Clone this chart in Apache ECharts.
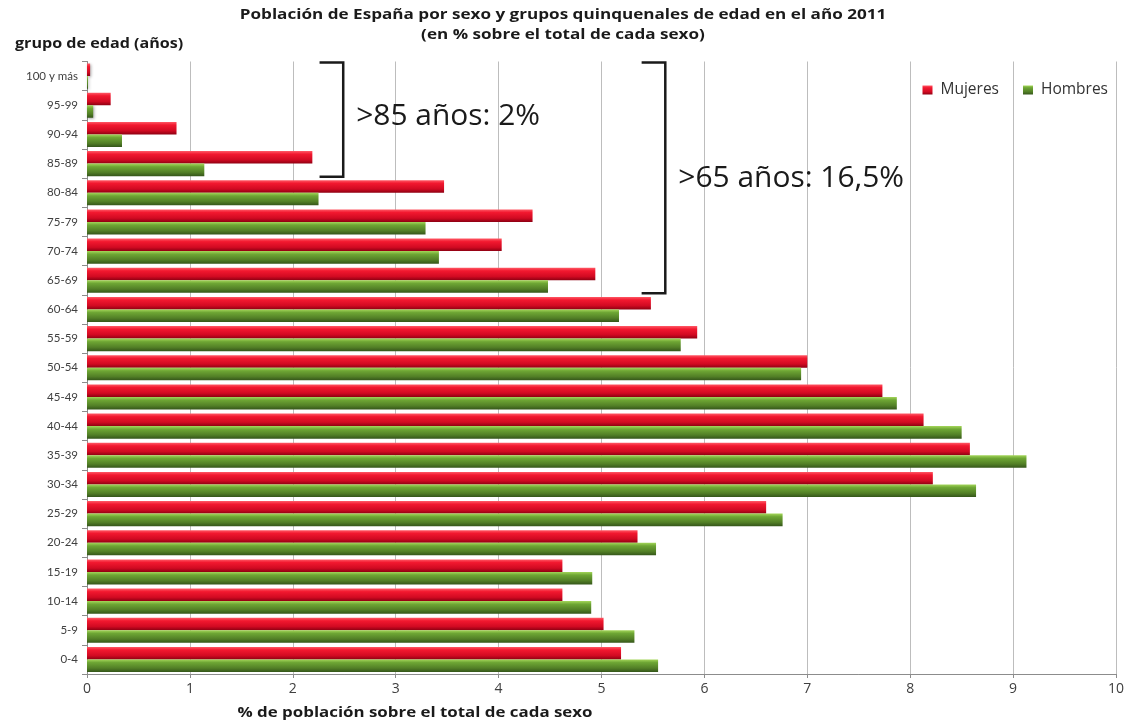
<!DOCTYPE html>
<html>
<head>
<meta charset="utf-8">
<script src="https://cdn.jsdelivr.net/npm/echarts@6/dist/echarts.min.js"></script>
<style>
  html, body { margin: 0; padding: 0; background: #fff; }
  #main { width: 1127px; height: 728px; }
</style>
</head>
<body>
<div id="main"></div>
<script>
// grupos de edad, de abajo (0-4) hacia arriba (100 y más)
const grupos = ['0-4', '5-9', '10-14', '15-19', '20-24', '25-29', '30-34', '35-39', '40-44', '45-49',
  '50-54', '55-59', '60-64', '65-69', '70-74', '75-79', '80-84', '85-89', '90-94', '95-99', '100 y más'];
const mujeres = [5.19, 5.02, 4.62, 4.62, 5.35, 6.60, 8.22, 8.58, 8.13, 7.73,
  7.00, 5.93, 5.48, 4.94, 4.03, 4.33, 3.47, 2.19, 0.87, 0.23, 0.03];
const hombres = [5.55, 5.32, 4.90, 4.91, 5.53, 6.76, 8.64, 9.13, 8.50, 7.87,
  6.94, 5.77, 5.17, 4.48, 3.42, 3.29, 2.25, 1.14, 0.34, 0.06, 0.01];
const ticksX = [0, 1, 2, 3, 4, 5, 6, 7, 8, 9, 10];
// llaves: [x de la barra vertical, x del extremo, grupo superior, grupo inferior, texto]
const llaves = [
  [2.49, 2.26, '100 y más', '85-89', '>85 años: 2%'],
  [5.62, 5.39, '100 y más', '65-69', '>65 años: 16,5%']
];

const fuente = '"Open Sans", Lato, sans-serif';

const rojo = new echarts.graphic.LinearGradient(0, 0, 0, 1, [
  { offset: 0, color: '#ff5a66' },
  { offset: 0.25, color: '#f2182f' },
  { offset: 0.7, color: '#d10a22' },
  { offset: 1, color: '#8e0012' }
]);
const verde = new echarts.graphic.LinearGradient(0, 0, 0, 1, [
  { offset: 0, color: '#a4d65a' },
  { offset: 0.25, color: '#6ea634' },
  { offset: 0.7, color: '#527f26' },
  { offset: 1, color: '#35561a' }
]);

// textos sueltos (algo estirados en horizontal, como en el original)
const texto = (t, x, y, size, sx, align) => ({
  type: 'text', x: x, y: y, scaleX: sx, z: 100,
  style: { text: t, fontSize: size, fontWeight: 'bold', fontFamily: fuente, fill: '#1a1a1a',
    align: align, verticalAlign: 'middle' }
});

const chart = echarts.init(document.getElementById('main'), null, { renderer: 'canvas' });

const option = {
  animation: false,
  textStyle: { fontFamily: fuente },
  legend: {
    data: ['Mujeres', 'Hombres'],
    right: 14, top: 77,
    itemWidth: 10, itemHeight: 9, itemGap: 24,
    icon: 'rect',
    textStyle: { fontSize: 15.5, color: '#333', fontFamily: fuente, padding: [0, 0, 0, 3] }
  },
  grid: { left: 87, right: 11, top: 61.5, bottom: 54 },
  xAxis: {
    type: 'value', min: 0, max: 10, interval: 1,
    axisLine: { show: true, lineStyle: { color: '#8c8c8c' } },
    axisTick: { show: true, length: 4, lineStyle: { color: '#8c8c8c' } },
    axisLabel: { fontSize: 14, color: '#404040', margin: 8, formatter: v => ticksX.includes(v) ? String(v) : '' },
    splitLine: { show: true, lineStyle: { color: '#bdbdbd', width: 1 } }
  },
  yAxis: {
    type: 'category', data: grupos,
    axisLine: { show: true, lineStyle: { color: '#8c8c8c' } },
    axisTick: { show: true, length: 5, lineStyle: { color: '#8c8c8c' } },
    axisLabel: { fontSize: 11.5, color: '#404040', margin: 9, fontFamily: 'Lato, sans-serif' }
  },
  series: [
    {
      name: 'Mujeres', type: 'bar', data: mujeres,
      barGap: '0%', barCategoryGap: '14%',
      itemStyle: { color: rojo, shadowColor: 'rgba(0,0,0,0.35)', shadowBlur: 3, shadowOffsetX: 1, shadowOffsetY: 1 }
    },
    {
      name: 'Hombres', type: 'bar', data: hombres,
      barGap: '0%', barCategoryGap: '14%',
      itemStyle: { color: verde, shadowColor: 'rgba(0,0,0,0.35)', shadowBlur: 3, shadowOffsetX: 1, shadowOffsetY: 1 }
    }
  ]
};
chart.setOption(option);

const elementos = [
  texto('Población de España por sexo y grupos quinquenales de edad en el año 2011', 563, 15, 15, 1.14, 'center'),
  texto('(en % sobre el total de cada sexo)', 563, 35, 15, 1.14, 'center'),
  texto('grupo de edad (años)', 15, 44, 14, 1.15, 'left'),
  texto('% de población sobre el total de cada sexo', 415, 713, 13.5, 1.25, 'center')
];

// llaves y textos, situados con las escalas del gráfico
const paso = chart.convertToPixel({ yAxisIndex: 0 }, grupos[0]) - chart.convertToPixel({ yAxisIndex: 0 }, grupos[1]);
llaves.forEach(([xv, xe, arriba, abajo, t], i) => {
  const x = chart.convertToPixel({ xAxisIndex: 0 }, xv);
  const x0 = chart.convertToPixel({ xAxisIndex: 0 }, xe);
  const y1 = chart.convertToPixel({ yAxisIndex: 0 }, arriba) - paso / 2 + 1;
  const y2 = chart.convertToPixel({ yAxisIndex: 0 }, abajo) + paso / 2 - 1.5;
  elementos.push({
    type: 'polyline', z: 100,
    shape: { points: [[x0, y1], [x, y1], [x, y2], [x0, y2]] },
    style: { stroke: '#1a1a1a', lineWidth: 2.5, fill: null }
  });
  const yc = i === 0 ? (y1 + y2) / 2 - 3 : (y1 + y2) / 2 + 1;
  elementos.push({
    type: 'text', z: 100, x: x + 13, y: yc, scaleX: 1.05,
    style: { text: t, fontSize: 28.5, fontFamily: fuente, fill: '#1a1a1a', verticalAlign: 'middle' }
  });
});
chart.setOption({ graphic: elementos });
</script>
</body>
</html>
